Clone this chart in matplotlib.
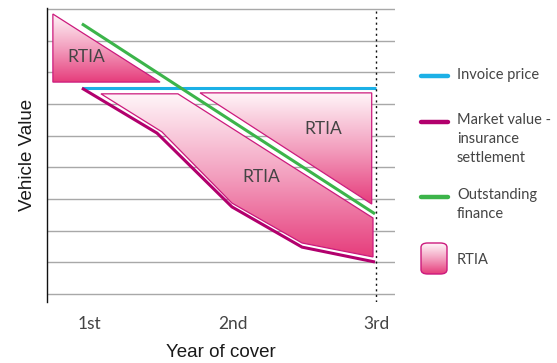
import matplotlib.pyplot as plt
import numpy as np
from matplotlib.colors import LinearSegmentedColormap
from matplotlib.lines import Line2D
from matplotlib.patches import FancyBboxPatch, Polygon

# x: 1 = 1st year, 2 = 2nd, 3 = 3rd ; y: gridline units
YEAR_TICKS = [1, 2, 3]
YEAR_LABELS = ["1st", "2nd", "3rd"]
GRID_Y = list(range(10))

INVOICE_X = [0.944, 3.0]
INVOICE_Y = [6.50, 6.50]

MARKET_X = [0.944, 1.469, 1.993, 2.483, 2.993]
MARKET_Y = [6.50, 5.08, 2.75, 1.48, 1.01]

FINANCE_X = [0.944, 2.993]
FINANCE_Y = [8.53, 2.53]

RTIA_EARLY = [(0.741, 8.84), (0.741, 6.69), (1.49, 6.69)]
RTIA_UPPER = [(1.77, 6.35), (2.97, 6.35), (2.97, 2.84)]
RTIA_LOWER = [(1.077, 6.32), (1.615, 6.32), (2.979, 2.40), (2.979, 1.17),
              (2.483, 1.61), (1.993, 2.87), (1.503, 5.12)]
RTIA_TEXT = [(0.972, 7.48), (2.63, 5.21), (2.20, 3.69)]

C_BLUE = "#1cb0e6"
C_PURPLE = "#b2006d"
C_GREEN = "#3cb44a"
C_EDGE = "#cc1a7d"
TXT = "#444444"

cmap = LinearSegmentedColormap.from_list(
    "rtia", ["#e63d7c", "#f3a0bf", "#fff6f9"])

fig = plt.figure(figsize=(5.57, 3.63), dpi=100)
ax = fig.add_axes([0.0844, 0.168, 0.6248, 0.810])
ax.set_xlim(0.70, 3.133)
ax.set_ylim(-0.253, 9.03)

for y in GRID_Y:
    ax.axhline(y, color="#a8a8a8", lw=1.0, zorder=0)
ax.axvline(3, color="#111111", lw=1.0, ls=(0, (1.5, 2.5)), zorder=5)


def gradient_poly(pts):
    pts = np.array(pts)
    poly = Polygon(pts, closed=True, facecolor="none", edgecolor=C_EDGE,
                   lw=0.9, zorder=3)
    ax.add_patch(poly)
    grad = np.linspace(0, 1, 256).reshape(-1, 1)
    im = ax.imshow(grad, cmap=cmap, origin="lower", aspect="auto",
                   extent=(pts[:, 0].min(), pts[:, 0].max(),
                           pts[:, 1].min(), pts[:, 1].max()),
                   zorder=2, interpolation="bilinear")
    im.set_clip_path(poly)


for p in (RTIA_EARLY, RTIA_UPPER, RTIA_LOWER):
    gradient_poly(p)
ax.set_xlim(0.70, 3.133)
ax.set_ylim(-0.253, 9.03)

ax.plot(INVOICE_X, INVOICE_Y, color=C_BLUE, lw=2.2, zorder=4,
        solid_capstyle="butt")
ax.plot(MARKET_X, MARKET_Y, color=C_PURPLE, lw=2.2, zorder=4,
        solid_capstyle="butt")
ax.plot(FINANCE_X, FINANCE_Y, color=C_GREEN, lw=2.2, zorder=4,
        solid_capstyle="butt")

for x, y in RTIA_TEXT:
    ax.text(x, y, "RTIA", ha="center", va="center", fontsize=12.5,
            color=TXT, family="Lato", zorder=6)

for s in ("top", "right", "bottom"):
    ax.spines[s].set_visible(False)
ax.spines["left"].set_color("#111111")
ax.spines["left"].set_linewidth(1.0)
ax.set_yticks([])
ax.set_xticks(YEAR_TICKS)
ax.set_xticklabels(YEAR_LABELS, family="Lato", fontsize=12.5, color=TXT)
ax.tick_params(axis="x", length=0, pad=10)
ax.set_xlabel("Year of cover", family="Liberation Sans", fontsize=13.5,
              color="#1a1a1a", labelpad=9)
ax.set_ylabel("Vehicle Value", family="Liberation Sans", fontsize=13.5,
              color="#1a1a1a", labelpad=8)

# legend, drawn by hand so handles line up with the first text line
W, H = 557, 363
legend = [(C_BLUE, 75.5, "Invoice price"),
          (C_PURPLE, 121.5, "Market value -\ninsurance\nsettlement"),
          (C_GREEN, 196.5, "Outstanding\nfinance")]
for color, ypx, label in legend:
    fig.add_artist(Line2D([421 / W, 448 / W], [1 - ypx / H] * 2, color=color,
                          lw=3.2, solid_capstyle="round"))
    fig.text(457 / W, 1 - (ypx - 8) / H, label, ha="left", va="top",
             family="Lato", fontsize=10.5, color=TXT, linespacing=1.45)

sw = FancyBboxPatch((421 / W, 1 - 274 / H), 26 / W, 31 / H,
                    boxstyle="round,pad=0,rounding_size=0.012",
                    transform=fig.transFigure, facecolor="none",
                    edgecolor=C_EDGE, lw=1.0, zorder=3)
fig.add_artist(sw)
swax = fig.add_axes([421 / W, 1 - 274 / H, 26 / W, 31 / H])
swax.axis("off")
swim = swax.imshow(np.linspace(0, 1, 64).reshape(-1, 1), cmap=cmap,
                   origin="lower", aspect="auto", extent=(0, 1, 0, 1))
swim.set_clip_path(sw)
fig.text(457 / W, 1 - 259.5 / H, "RTIA", ha="left", va="center",
         family="Lato", fontsize=10.5, color=TXT)

fig.savefig("out.png", dpi=100)
